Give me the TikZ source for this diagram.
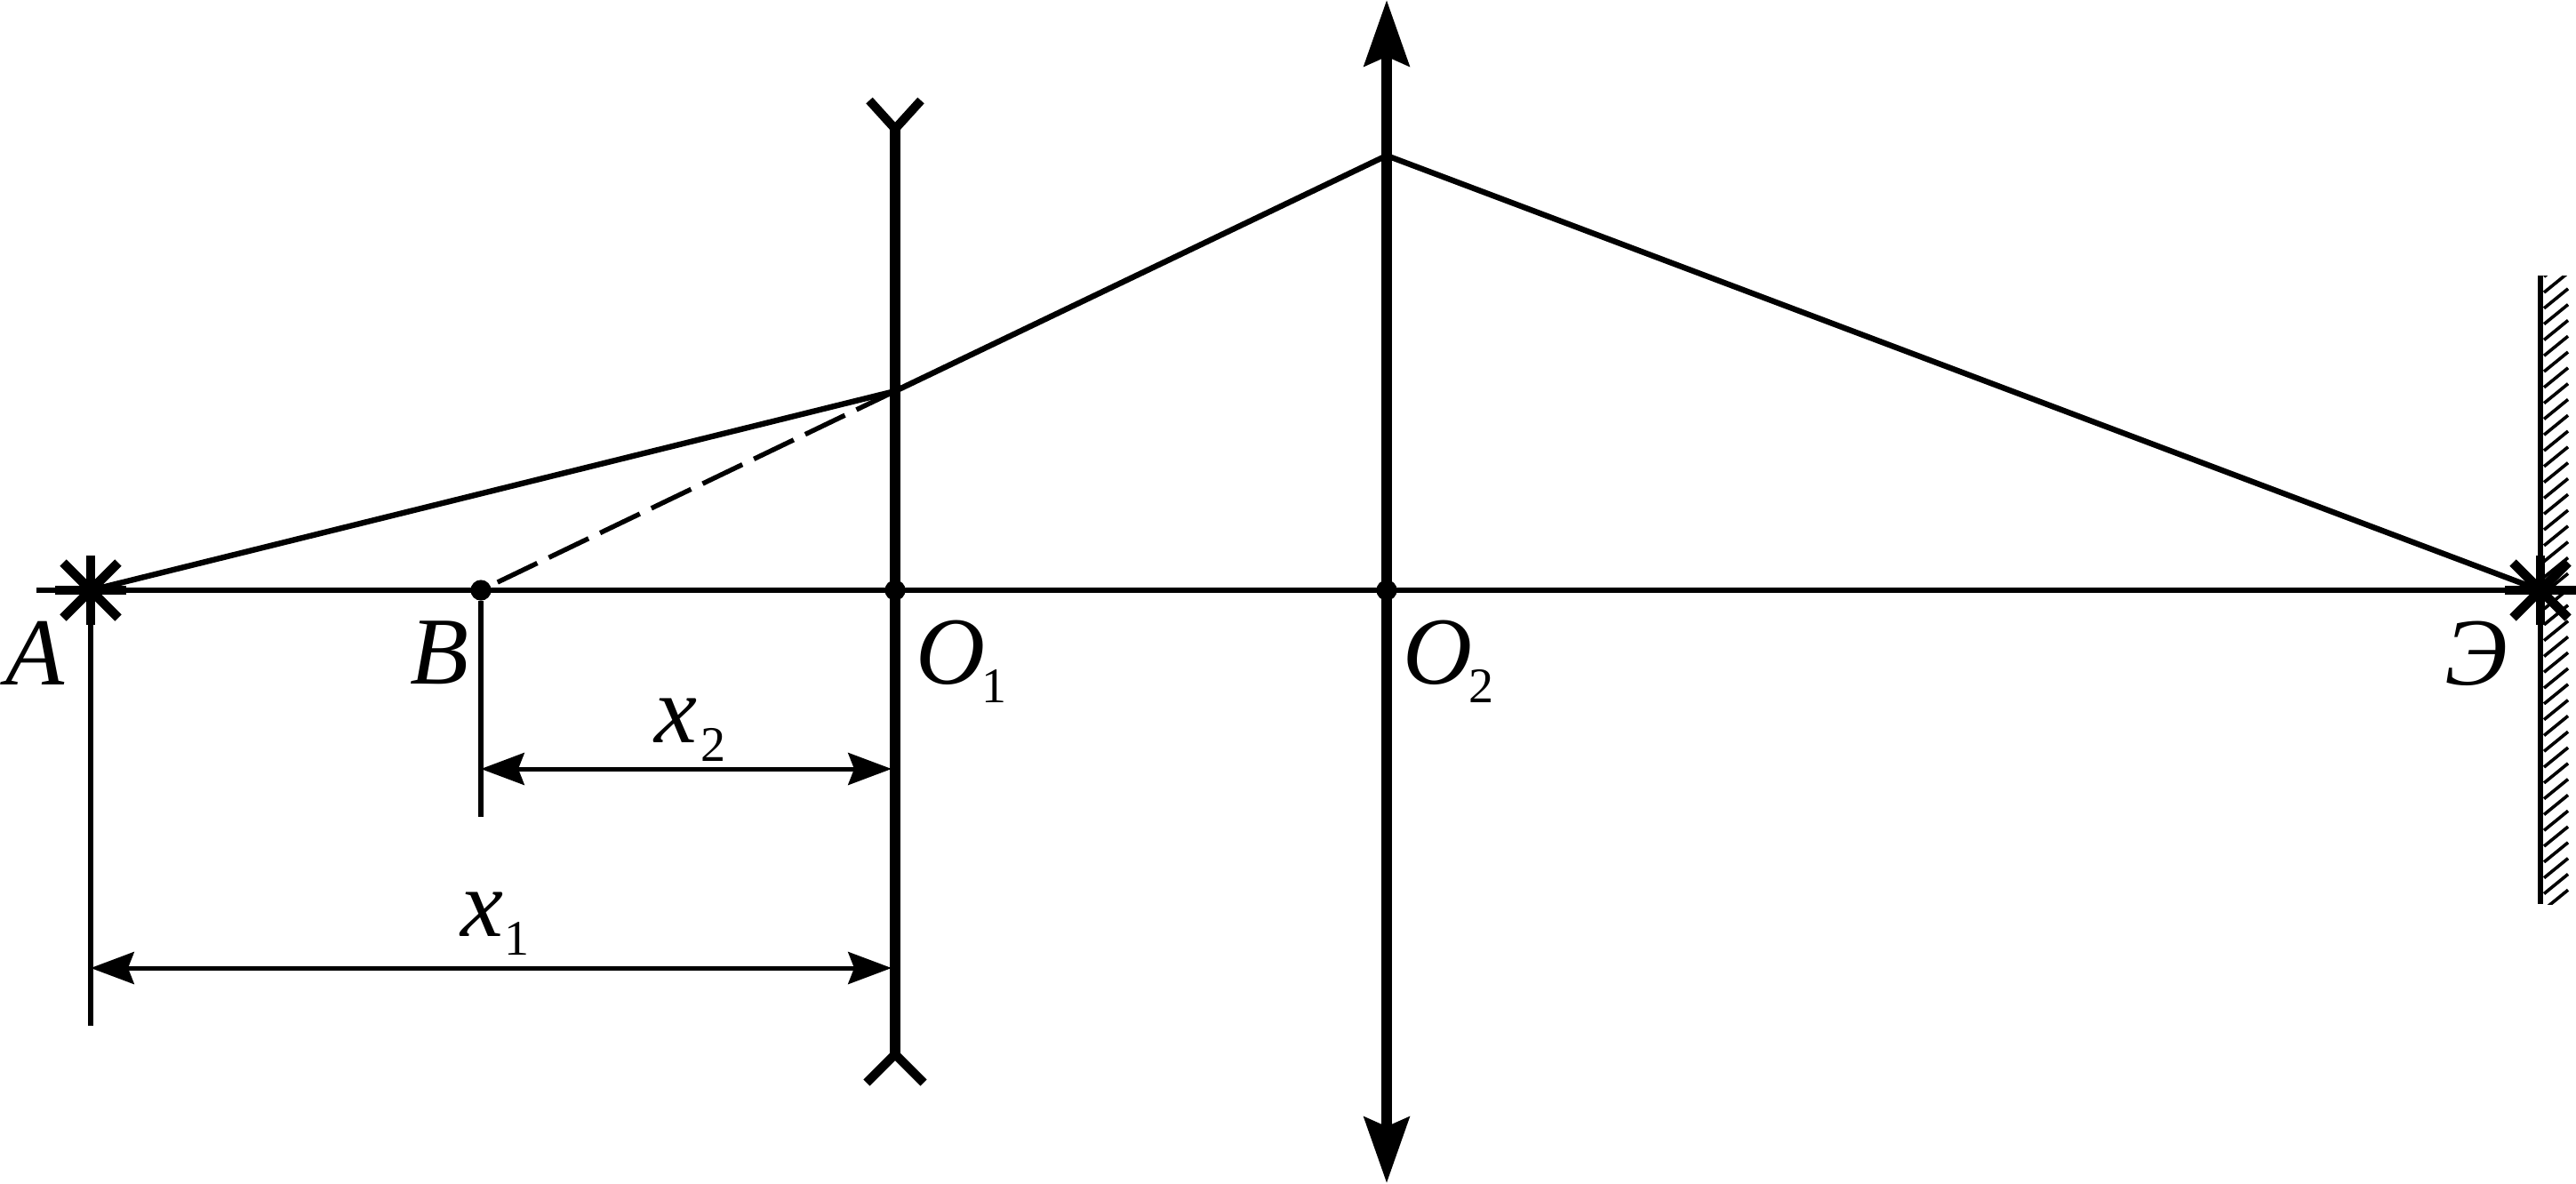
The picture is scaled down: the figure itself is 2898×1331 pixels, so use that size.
\documentclass[tikz,border=0pt]{standalone}
\usepackage{fontspec}
\setmainfont{Liberation Serif}
\usetikzlibrary{arrows.meta}
\newcommand{\subdigit}[1]{\raisebox{-5.4pt}{\fontsize{14}{14}\selectfont\upshape #1}}
\tikzset{
  thinline/.style={line width=1.35pt},
  rayline/.style={line width=1.6pt},
  lensline/.style={line width=2.9pt},
  forkline/.style={line width=2.5pt, line join=miter},
  starline/.style={line width=2.6pt},
  hatchline/.style={line width=0.9pt},
  dimline/.style={line width=1.25pt, {Stealth[length=12.2pt, width=9pt, inset=1.7pt]}-{Stealth[length=12.2pt, width=9pt, inset=1.7pt]}},
  bigarrow/.style={lensline, {Stealth[length=18.5pt, width=12.6pt, inset=2.6pt]}-{Stealth[length=18.5pt, width=12.6pt, inset=2.6pt]}},
  dotnode/.style={circle, fill=black, inner sep=0pt, minimum size=5.8pt},
  lbl/.style={inner sep=0pt, anchor=base west, font=\fontsize{27}{30}\selectfont\itshape}
}
\begin{document}
\begin{tikzpicture}[x=0.25pt, y=-0.25pt]
  \useasboundingbox (0,0) rectangle (2898,1331);

  \coordinate (A) at (102,664);
  \coordinate (E) at (2858,664);
  \coordinate (P1) at (1007,440);
  \coordinate (P2) at (1560,175);
  \coordinate (axisL) at (41,664);
  \coordinate (axisR) at (2898,664);

  % screen
  \draw[line width=1.3pt] (2858,310) -- (2858,1017);
  \begin{scope}
    \clip (2860,310) rectangle (2898,1017);
    \foreach \k in {-1,...,39}
      \draw[hatchline] (2862,329+17.8*\k) -- (2889,307+17.8*\k);
  \end{scope}

  % axis, lenses
  \draw[thinline] (axisL) -- (axisR);
  \draw[forkline] (978,113) -- (1007,145) -- (1036,113);
  \draw[forkline] (975,1218) -- (1007,1186) -- (1039,1218);
  \draw[lensline] (1007,143) -- (1007,1188);
  \coordinate (top) at (1560,0);
  \coordinate (bottom) at (1560,1331);
  \draw[bigarrow] (top) -- (bottom);

  \node[dotnode] (dotB) at (541,664) {};
  \node[dotnode] (dotO1) at (1007,664) {};
  \node[dotnode] (dotO2) at (1560,664) {};

  % rays
  \draw[rayline, line join=bevel] (A) -- (P1) -- (P2) -- (E);
  \draw[thinline, dash pattern=on 12.4pt off 3.6pt, shorten <=2.1pt] (dotB) -- (P1);

  % sources
  \foreach \p in {A,E}
    {
      \draw[starline] (\p) ++(0,-39) -- ++(0,78);
      \draw[starline] (\p) ++(-40,0) -- ++(80,0);
      \draw[starline] (\p) ++(-31,-31) -- ++(62,62);
      \draw[starline] (\p) ++(-31,31) -- ++(62,-62);
    }

  % dimensions
  \coordinate (footA) at (102,1154);
  \coordinate (footB) at (541,919);
  \coordinate (d1a) at (102,1089);
  \coordinate (d1b) at (1003,1089);
  \coordinate (d2a) at (541,865);
  \coordinate (d2b) at (1003,865);
  \draw[thinline] (A) -- (footA);
  \draw[thinline] (dotB) -- (footB);
  \draw[dimline] (d1a) -- (d1b);
  \draw[dimline] (d2a) -- (d2b);

  % labels
  \node[lbl] (lblA) at (6,770) {A};
  \node[lbl] (lblB) at (461,769) {B};
  \node[lbl] (lblO1) at (1030,769) {O\hspace{-1pt}\subdigit{1}};
  \node[lbl] (lblO2) at (1578,769) {O\hspace{-1pt}\subdigit{2}};
  \node[lbl] (lblE) at (2750,770) {Э};
  \node[lbl] (lblx2) at (736,835) {x\hspace{1pt}\subdigit{2}};
  \node[lbl] (lblx1) at (518,1053) {x\hspace{0.2pt}\subdigit{1}};
\end{tikzpicture}
\end{document}
